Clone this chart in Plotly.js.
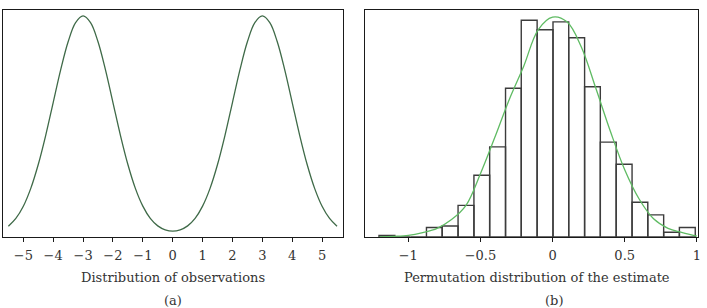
<!DOCTYPE html>
<html>
<head>
<meta charset="utf-8">
<script src="https://cdn.plot.ly/plotly-3.0.1.min.js"></script>
<style>
  html, body { margin: 0; padding: 0; background: #fff; }
  #chart { width: 707px; height: 308px; }
</style>
</head>
<body>
<div id="chart"></div>
<script>
// (a) bimodal density of the observations
const obsX = [-5.5, -5.25, -5, -4.75, -4.5, -4.25, -4, -3.75, -3.5, -3.25, -3, -2.75, -2.5, -2.25, -2, -1.75, -1.5, -1.25, -1, -0.75, -0.5, -0.25, 0,
              0.25, 0.5, 0.75, 1, 1.25, 1.5, 1.75, 2, 2.25, 2.5, 2.75, 3, 3.25, 3.5, 3.75, 4, 4.25, 4.5, 4.75, 5, 5.25, 5.5];
const obsDensity = [0.0088, 0.0159, 0.0270, 0.0432, 0.0648, 0.0913, 0.1210, 0.1506, 0.1761, 0.1934, 0.1995, 0.1934, 0.1761, 0.1506, 0.1210, 0.0913, 0.0648, 0.0432, 0.0271, 0.0160, 0.0092, 0.0056, 0.0044,
                    0.0056, 0.0092, 0.0160, 0.0271, 0.0432, 0.0648, 0.0913, 0.1210, 0.1506, 0.1761, 0.1934, 0.1995, 0.1934, 0.1761, 0.1506, 0.1210, 0.0913, 0.0648, 0.0432, 0.0270, 0.0159, 0.0088];
const obsTicks = [-5, -4, -3, -2, -1, 0, 1, 2, 3, 4, 5];

// (b) permutation distribution of the estimate: histogram counts and smooth fit
const binEdges = [-1.203, -1.093, -0.984, -0.874, -0.765, -0.655, -0.545, -0.436, -0.326, -0.217, -0.107,
                  0.003, 0.112, 0.222, 0.331, 0.441, 0.551, 0.660, 0.770, 0.879, 0.989];
const binCounts = [1, 0, 0, 6, 7, 20, 39, 57, 94, 137, 131, 136, 126, 95, 60, 46, 22, 14, 3, 6];
const fitX = [-1.2, -1.1, -1.0, -0.9, -0.8, -0.7, -0.6, -0.5, -0.4, -0.3, -0.2, -0.1, 0.0,
              0.1, 0.2, 0.3, 0.4, 0.5, 0.6, 0.7, 0.8, 0.9, 1.0];
const fitCounts = [0.1, 0.4, 1.0, 2.8, 5.5, 11, 20, 40, 63, 87, 108, 131, 139,
                   136, 120, 94, 67, 42.5, 24, 11.5, 5.5, 2.8, 0.5];
const permTicks = [-1, -0.5, 0, 0.5, 1];

const binMid = binCounts.map((_, i) => (binEdges[i] + binEdges[i + 1]) / 2);
const binWid = binCounts.map((_, i) => binEdges[i + 1] - binEdges[i]);

const W = 707, H = 308;
const TOP = 10, BOTTOM = 237;           // plot area edges in px
const FONT = 'DejaVu Serif, Liberation Serif, serif';
const TXT = '#333';
// paper y for a pixel row below the plot area
const py = p => (BOTTOM - p) / (BOTTOM - TOP);

const traces = [
  {
    x: obsX, y: obsDensity, type: 'scatter', mode: 'lines',
    line: { color: '#3f6a48', width: 1.3, shape: 'spline', smoothing: 1 },
    xaxis: 'x', yaxis: 'y', hoverinfo: 'skip'
  },
  {
    x: binMid, y: binCounts, width: binWid, type: 'bar',
    marker: { color: 'rgba(255,255,255,0)', line: { color: '#3c3c3c', width: 1.4 } },
    xaxis: 'x2', yaxis: 'y2', hoverinfo: 'skip'
  },
  {
    x: fitX, y: fitCounts, type: 'scatter', mode: 'lines',
    line: { color: '#5fbb63', width: 1.3, shape: 'spline', smoothing: 1 },
    xaxis: 'x2', yaxis: 'y2', hoverinfo: 'skip'
  }
];

const xCommon = {
  showline: true, mirror: true, linecolor: '#1a1a1a', linewidth: 1,
  showgrid: false, zeroline: false,
  ticks: 'outside', ticklen: 4, tickwidth: 1, tickcolor: '#1a1a1a',
  tickfont: { family: FONT, size: 13, color: TXT },
  tickmode: 'array', ticklabelstandoff: 2
};
const yCommon = {
  showline: true, mirror: true, linecolor: '#1a1a1a', linewidth: 1,
  showgrid: false, zeroline: false, showticklabels: false, ticks: ''
};

const layout = {
  width: W, height: H,
  margin: { l: 0, r: 0, t: TOP, b: H - BOTTOM, pad: 0 },
  paper_bgcolor: '#fff', plot_bgcolor: '#fff',
  showlegend: false, bargap: 0,
  xaxis: Object.assign({}, xCommon, {
    domain: [3 / W, 343 / W], range: [-5.68, 5.70],
    tickvals: obsTicks, ticktext: obsTicks.map(v => v < 0 ? '\u2212' + Math.abs(v) : String(v)),
    anchor: 'y'
  }),
  yaxis: Object.assign({}, yCommon, { range: [-0.0009, 0.2049], anchor: 'x' }),
  xaxis2: Object.assign({}, xCommon, {
    domain: [365 / W, 698 / W], range: [-1.30, 1.008],
    tickvals: permTicks, ticktext: permTicks.map(v => v < 0 ? '\u2212' + Math.abs(v) : String(v)),
    anchor: 'y2'
  }),
  yaxis2: Object.assign({}, yCommon, { range: [0, 143.5], anchor: 'x2' }),
  annotations: [
    { text: 'Distribution of observations', x: 172.5 / W, y: py(277) },
    { text: 'Permutation distribution of the estimate', x: 537 / W, y: py(277) },
    { text: '(a)', x: 172.5 / W, y: py(300) },
    { text: '(b)', x: 554 / W, y: py(300) }
  ].map(a => Object.assign({
    xref: 'paper', yref: 'paper', xanchor: 'center', yanchor: 'middle',
    showarrow: false, font: { family: FONT, size: 13, color: TXT }
  }, a))
};

Plotly.newPlot('chart', traces, layout, { staticPlot: true, displayModeBar: false });
</script>
</body>
</html>
